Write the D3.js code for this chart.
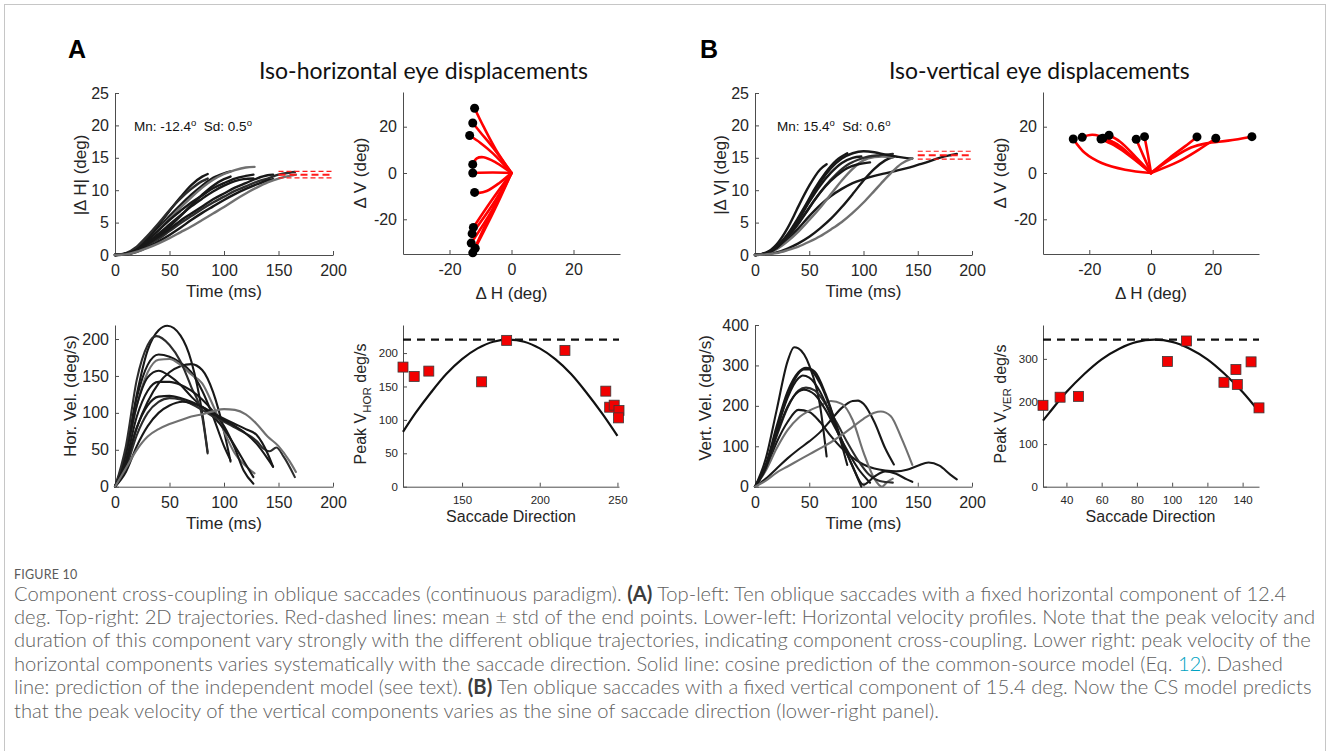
<!DOCTYPE html>
<html>
<head>
<meta charset="utf-8">
<script src="https://cdn.jsdelivr.net/npm/d3@7"></script>
<style>
  html, body { margin: 0; padding: 0; background: #fff; }
  svg { display: block; }
</style>
</head>
<body>
<svg id="fig" width="1328" height="751"></svg>
<script>
// ================= data =================
// shared ticks
const timeTicks   = [0, 50, 100, 150, 200];
const posTicks    = [0, 5, 10, 15, 20, 25];
const planeTicks  = [-20, 0, 20];
const horVelTicks = [0, 50, 100, 150, 200];
const verVelTicks = [0, 100, 200, 300, 400];
const horPeakTicksY = [0, 50, 100, 150, 200];
const horDirTicks   = [150, 200, 250];
const verPeakTicksY = [0, 100, 200, 300];
const verDirTicks   = [40, 60, 80, 100, 120, 140];
const endWindow = [150, 200];   // time window of the end-point mean/sd lines (ms)

// ---- A: iso-horizontal saccades (ordered by direction) ----
const isoHorMean = -12.4, isoHorSD = 0.5;
const isoHorDirection = [112, 119.2, 128.6, 162.6, 178.7, 216.2, 242.5, 245, 247.9, 251, 250.7];
const isoHorPeakVel   = [179, 165, 173, 157, 219, 204, 143, 119, 122, 114, 103];
const isoHorIndep = 220;        // independent-model peak velocity
const isoHorModel = [[112,82],[120,110],[130,141],[140,169],[150,191],[160,207],[170,217],[180,220],
  [190,217],[200,207],[210,191],[220,169],[230,141],[240,110],[250,76]];

// |dH| (deg) vs time (ms)
const isoHorPosition = [
  [[0,0],[10,0.2],[20,1.1],[30,2.5],[40,4.2],[50,6.0],[60,7.7],[70,9.3],[80,10.7],[90,11.9],[100,12.6],[106,12.9]],
  [[0,0],[10,0.2],[20,0.7],[30,1.7],[40,3.0],[50,4.4],[60,6.0],[70,7.7],[80,9.3],[90,10.7],[100,11.7],[106,12.1]],
  [[0,0],[10,0.2],[20,1.0],[30,2.3],[40,3.9],[50,5.6],[60,7.3],[70,8.9],[80,10.4],[90,11.6],[100,12.5],[110,13.1],[120,13.5],[128,13.6]],
  [[0,0],[10,0.2],[20,1.0],[30,2.3],[40,3.8],[50,5.4],[60,6.8],[70,8.1],[80,9.2],[90,10.3],[100,11.1],[110,11.8],[120,12.2],[127,12.4]],
  [[0,0],[10,0.2],[20,1.1],[30,2.6],[40,4.6],[50,6.8],[60,8.9],[70,10.8],[80,12.1],[85,12.5]],
  [[0,0],[10,0.3],[20,1.3],[30,3.0],[40,4.9],[50,6.9],[60,8.7],[70,10.2],[80,11.4],[85,11.8]],
  [[0,0],[10,0.2],[20,0.8],[30,2.0],[40,3.3],[50,4.7],[60,6.1],[70,7.5],[80,8.7],[90,9.8],[100,10.7],[110,11.4],[118,11.7],[127,11.8]],
  [[0,0],[10,0.1],[20,0.6],[30,1.5],[40,2.5],[50,3.7],[60,4.9],[70,6.0],[80,7.1],[90,8.1],[100,9.0],[110,9.9],[120,10.6],[130,11.3],[140,11.8],[150,12.4],[160,12.7],[165,12.8]],
  [[0,0],[10,0.2],[20,0.7],[30,1.7],[40,2.8],[50,4.0],[60,5.3],[70,6.4],[80,7.5],[90,8.6],[100,9.5],[110,10.4],[120,11.1],[130,11.8],[140,12.3],[145,12.4]],
  [[0,0],[10,0.1],[20,0.5],[30,1.2],[40,2.1],[50,3.1],[60,4.2],[70,5.4],[80,6.5],[90,7.5],[100,8.5],[110,9.4],[120,10.2],[130,10.9],[140,11.5],[145,11.7]],
  [[0,0],[10,0.1],[20,0.5],[30,1.1],[40,1.8],[50,2.6],[60,3.5],[70,4.4],[80,5.4],[90,6.4],[100,7.4],[110,8.5],[120,9.5],[130,10.4],[140,11.2],[150,11.8],[160,12.2],[166,12.4]]
];

// horizontal velocity (deg/s) vs time (ms)
const isoHorVelocity = [
  [[0,0],[10,45],[20,120],[30,165],[40,179],[50,176],[60,168],[70,155],[80,130],[90,95],[100,55],[106,36]],
  [[0,0],[10,30],[20,80],[30,115],[40,140],[50,155],[60,163],[70,166],[80,158],[90,128],[100,75],[106,34]],
  [[0,0],[10,40],[20,110],[30,155],[40,172],[50,173],[60,165],[70,152],[80,140],[90,110],[100,75],[110,45],[120,28],[128,18]],
  [[0,0],[10,45],[20,110],[30,148],[40,157],[50,150],[60,138],[70,122],[80,108],[90,95],[100,78],[110,55],[120,30],[127,13]],
  [[0,0],[10,45],[20,125],[30,185],[40,212],[48,218],[60,205],[70,170],[80,100],[85,47]],
  [[0,0],[10,55],[20,145],[30,192],[38,204],[50,192],[60,170],[70,135],[80,95],[85,45]],
  [[0,0],[10,35],[20,95],[30,130],[40,142],[50,142],[60,138],[70,130],[80,118],[90,102],[100,82],[110,52],[118,22],[127,4]],
  [[0,0],[10,25],[20,70],[30,100],[40,115],[50,120],[60,118],[70,112],[80,104],[90,95],[100,88],[110,80],[120,72],[130,62],[136,52],[142,48],[148,53],[155,40],[165,13]],
  [[0,0],[10,30],[20,80],[30,110],[40,122],[50,123],[60,120],[70,115],[80,108],[90,98],[100,90],[110,82],[120,72],[130,58],[140,38],[145,27]],
  [[0,0],[10,20],[20,55],[30,82],[40,100],[50,110],[62,115],[70,113],[80,108],[90,100],[100,92],[110,85],[120,78],[130,70],[140,45],[145,27]],
  [[0,0],[10,25],[20,50],[30,68],[40,78],[50,85],[60,90],[70,95],[80,98],[90,102],[100,105],[110,104],[120,98],[130,85],[140,68],[150,55],[160,35],[166,20]]
];

// 2D trajectories (dH, dV) in deg, last point = end point
const isoHorPath = [
  [[0,0],[-5,10],[-9,20],[-11.9,28.0]],
  [[0,0],[-6,11],[-10,17.5],[-12.5,21.6]],
  [[0,0],[-6,8.5],[-10,13],[-13.5,16.2]],
  [[0,0],[-5,4.5],[-9,6.8],[-11.2,6.3],[-12.5,3.7]],
  [[0,0],[-6,0.2],[-12.5,0]],
  [[0,0],[-4,-4.4],[-8,-7.8],[-10.5,-8.6],[-11.9,-8.4]],
  [[0,0],[-6.5,-12],[-12.3,-23.5]],
  [[0,0],[-6,-13.5],[-12.7,-26.2]],
  [[0,0],[-6,-15.5],[-13.0,-30.3]],
  [[0,0],[-5.5,-16],[-11.7,-32.5]],
  [[0,0],[-6.5,-17],[-12.5,-34.5]]
];

// ---- B: iso-vertical saccades (ordered by direction) ----
const isoVerMean = 15.4, isoVerSD = 0.6;
const isoVerDirection = [26.7, 36.4, 46.8, 97.3, 108.1, 129.4, 136.2, 137, 144.8, 149.3];
const isoVerPeakVel   = [191, 210, 212, 294, 342, 245, 275, 240, 293, 185];
const isoVerIndep = 345;
const isoVerModel = [[26.7,155],[30,172],[40,222],[50,264],[60,299],[70,324],[80,340],[90,345],
  [100,340],[110,324],[120,299],[130,264],[140,222],[149.3,176]];

const isoVerPosition = [
  [[0,0],[10,0.2],[20,1.0],[30,2.4],[40,4.1],[50,6.0],[60,7.7],[70,9.1],[80,10.2],[90,11.1],[100,11.7],[110,12.2],[120,12.6],[130,13.0],[140,13.4],[150,13.9],[160,14.4],[170,15.0],[180,15.4],[186,15.6]],
  [[0,0],[10,0.1],[20,0.4],[30,1.0],[40,1.8],[50,2.8],[60,4.1],[70,5.6],[80,7.4],[90,9.4],[100,11.5],[110,13.3],[120,14.6],[128,15.2]],
  [[0,0],[10,0.2],[20,0.9],[30,2.1],[40,3.6],[50,5.4],[60,7.3],[70,9.4],[80,11.5],[90,13.3],[100,14.6],[110,15.1],[117,15.2],[122,15.15],[127,15.05]],
  [[0,0],[10,0.3],[20,1.3],[30,3.2],[40,5.8],[47,7.8],[55,10.2],[65,12.7],[75,14.6],[85,15.7]],
  [[0,0],[10,0.35],[20,1.65],[30,4.15],[36,6.1],[40,7.5],[50,10.7],[60,13.2],[66,14.0]],
  [[0,0],[10,0.2],[20,1.1],[30,2.7],[40,4.8],[47,6.5],[55,8.5],[65,10.7],[75,12.5],[85,13.9],[95,14.7],[105,15.2],[115,15.4],[127,15.6]],
  [[0,0],[10,0.25],[20,1.2],[30,3.0],[40,5.4],[50,8.2],[60,10.7],[70,12.7],[80,14.2],[90,15.0],[98,15.2]],
  [[0,0],[10,0.25],[20,1.1],[30,2.8],[40,4.9],[45,6.1],[55,8.5],[65,10.6],[75,12.2],[85,13.4],[95,14.0],[106,14.3]],
  [[0,0],[10,0.25],[20,1.2],[30,3.0],[40,5.5],[50,8.4],[60,11.2],[70,13.4],[80,14.9],[90,15.7],[100,16.0],[110,15.85],[120,15.5],[130,15.2],[140,14.95],[145,14.9]],
  [[0,0],[10,0.1],[20,0.3],[30,0.75],[40,1.3],[50,2.05],[60,2.9],[70,3.95],[80,5.1],[90,6.5],[100,8.1],[110,9.9],[116,11.0],[125,12.6],[135,14.1],[145,14.9]]
];

const isoVerVelocity = [
  [[0,0],[10,45],[20,110],[30,160],[40,190],[50,185],[60,160],[70,125],[80,95],[90,72],[100,55],[110,45],[120,40],[130,38],[140,42],[150,52],[160,60],[170,52],[180,30],[186,18]],
  [[0,0],[10,20],[20,45],[30,70],[40,92],[50,112],[60,135],[70,165],[80,195],[90,212],[95,213],[100,205],[110,160],[120,95],[128,55]],
  [[0,0],[10,40],[20,95],[30,140],[40,170],[50,188],[60,200],[70,212],[80,205],[90,165],[100,85],[110,20],[117,0],[122,12],[127,20]],
  [[0,0],[10,55],[20,150],[30,235],[40,283],[47,294],[55,285],[65,230],[75,150],[85,54]],
  [[0,0],[10,70],[20,190],[30,310],[36,345],[40,342],[50,300],[60,200],[66,75]],
  [[0,0],[10,45],[20,125],[30,195],[40,238],[47,245],[55,238],[65,205],[75,160],[85,110],[95,65],[105,30],[115,14],[127,10]],
  [[0,0],[10,50],[20,140],[30,220],[40,268],[44,275],[50,270],[60,235],[70,175],[80,110],[90,50],[98,0]],
  [[0,0],[10,48],[20,130],[30,198],[40,235],[45,240],[55,228],[65,190],[75,140],[85,90],[95,45],[106,10]],
  [[0,0],[10,50],[20,140],[30,225],[40,280],[45,290],[50,290],[60,255],[70,190],[80,115],[90,50],[100,5],[110,25],[120,38],[130,32],[140,18],[145,12]],
  [[0,0],[10,15],[20,35],[30,50],[40,65],[50,80],[60,95],[70,110],[80,128],[90,148],[100,168],[110,183],[116,186],[125,175],[135,120],[145,54]]
];

const isoVerPath = [
  [[0,0],[7,6.5],[13,11],[18,12.8],[25,14],[32.7,15.7]],
  [[0,0],[9,5],[15.4,10],[21.0,15.0]],
  [[0,0],[6,6.5],[11,11.5],[14.9,15.6]],
  [[0,0],[-1,8],[-2.1,15.7]],
  [[0,0],[-2.5,7.5],[-4.8,14.6]],
  [[0,0],[-5,7],[-10,13.5],[-13.6,16.3]],
  [[0,0],[-6,7],[-11,12.5],[-15.6,15.0]],
  [[0,0],[-7,7.5],[-12,12],[-16.2,14.7]],
  [[0,0],[-7,8],[-14,14.5],[-19,16.5],[-22.3,15.4]],
  [[0,0],[-8.4,1.4],[-16,4.3],[-21.4,8.6],[-25.2,14.7]]
];

// ================= styling =================
const AXIS = "#4d4d4d", INK = "#262626";
const SANS = "'Liberation Sans', Arial, Helvetica, sans-serif";
const BLACK = "#181818", GREY = "#707070", DARK = "#2c2c2c";
const traceColorA = [BLACK, BLACK, GREY, BLACK, BLACK, DARK, BLACK, DARK, BLACK, BLACK, GREY];
const traceColorB = [BLACK, BLACK, GREY, BLACK, BLACK, DARK, BLACK, BLACK, BLACK, GREY];

const svg = d3.select("#fig");
svg.append("rect").attr("x", 4.5).attr("y", 4.5).attr("width", 1321).attr("height", 800)
  .attr("fill", "#fff").attr("stroke", "#c6c6c6");

function makeAxes(c) {
  const x = d3.scaleLinear().domain(c.xDomain).range([c.left, c.right]);
  const y = d3.scaleLinear().domain(c.yDomain).range([c.bottom, c.top]);
  const g = svg.append("g");
  const fmt = d => String(d);
  const ax = g.append("g").attr("transform", `translate(0,${c.bottom})`)
    .call(d3.axisBottom(x).tickValues(c.xTicks).tickFormat(fmt)
      .tickSizeInner(-4).tickSizeOuter(0).tickPadding(c.xPad));
  const ay = g.append("g").attr("transform", `translate(${c.left},0)`)
    .call(d3.axisLeft(y).tickValues(c.yTicks).tickFormat(fmt)
      .tickSizeInner(-4).tickSizeOuter(0).tickPadding(c.yPad));
  [ax, ay].forEach(a => {
    a.select(".domain").attr("stroke", AXIS).attr("stroke-width", 1);
    a.selectAll(".tick line").attr("stroke", AXIS).attr("stroke-width", 1);
    a.selectAll(".tick text").attr("fill", INK)
      .style("font-family", SANS).style("font-size", c.fs + "px");
  });
  const plot = svg.append("g");
  return { x, y, plot };
}

function xLabel(cx, baseline, txt, fs) {
  svg.append("text").attr("x", cx).attr("y", baseline).attr("text-anchor", "middle")
    .style("font-family", SANS).style("font-size", fs + "px").attr("fill", INK).text(txt);
}
// rotated label; parts: [text, subscript?]
function yLabel(bx, cy, parts, fs) {
  const t = svg.append("text").attr("transform", `translate(${bx},${cy}) rotate(-90)`)
    .attr("text-anchor", "middle").style("font-family", SANS).style("font-size", fs + "px")
    .style("white-space", "pre").attr("fill", INK);
  let shifted = 0;
  parts.forEach(([s, sub]) => {
    const sp = t.append("tspan").text(s);
    if (sub) { sp.attr("dy", 5).style("font-size", (fs * 0.72) + "px"); shifted = 5; }
    else if (shifted) { sp.attr("dy", -shifted); shifted = 0; }
  });
}
function statText(x0, baseline, mean, sd) {
  const t = svg.append("text").attr("x", x0).attr("y", baseline)
    .style("font-family", SANS).style("font-size", "13.5px").style("white-space", "pre").attr("fill", "#111");
  t.append("tspan").text(`Mn: ${mean.toFixed(1)}`);
  t.append("tspan").attr("dy", -5).style("font-size", "9.5px").text("o");
  t.append("tspan").attr("dy", 5).text(`  Sd: ${sd.toFixed(1)}`);
  t.append("tspan").attr("dy", -5).style("font-size", "9.5px").text("o");
}

function traces(ax, series, colors, width) {
  const ln = d3.line().curve(d3.curveMonotoneX).x(d => ax.x(d[0])).y(d => ax.y(d[1]));
  series.forEach((s, i) => {
    ax.plot.append("path").attr("d", ln(s)).attr("fill", "none")
      .attr("stroke", colors[i]).attr("stroke-width", width)
      .attr("stroke-linejoin", "round").attr("stroke-linecap", "round");
  });
}
function endBand(ax, mean, sd) {
  const m = Math.abs(mean);
  [[m + sd, 1.1, "5,3"], [m - sd, 1.1, "5,3"], [m, 2, "7,4"]].forEach(([v, w, dash]) => {
    ax.plot.append("line").attr("x1", ax.x(endWindow[0])).attr("x2", ax.x(endWindow[1]))
      .attr("y1", ax.y(v)).attr("y2", ax.y(v))
      .attr("stroke", "#ff1a1a").attr("stroke-width", w).attr("stroke-dasharray", dash);
  });
}
function plane(ax, paths) {
  const ln = d3.line().curve(d3.curveCatmullRom.alpha(0.5)).x(d => ax.x(d[0])).y(d => ax.y(d[1]));
  paths.forEach(p => {
    ax.plot.append("path").attr("d", ln(p)).attr("fill", "none").attr("stroke", "#ff0000")
      .attr("stroke-width", 2.6).attr("stroke-linecap", "round");
  });
  ax.plot.selectAll(null).data(paths).join("circle")
    .attr("cx", p => ax.x(p[p.length - 1][0])).attr("cy", p => ax.y(p[p.length - 1][1]))
    .attr("r", 4.5).attr("fill", "#000");
}
function peakPanel(ax, dirs, peaks, model, indep) {
  const dom = ax.x.domain();
  ax.plot.append("line").attr("x1", ax.x(dom[0])).attr("x2", ax.x(dom[1]))
    .attr("y1", ax.y(indep)).attr("y2", ax.y(indep))
    .attr("stroke", "#111").attr("stroke-width", 2.2).attr("stroke-dasharray", "8,6");
  const ln = d3.line().curve(d3.curveCatmullRom).x(d => ax.x(d[0])).y(d => ax.y(d[1]));
  ax.plot.append("path").attr("d", ln(model)).attr("fill", "none")
    .attr("stroke", "#111").attr("stroke-width", 2.2);
  const s = 10;
  ax.plot.selectAll(null).data(dirs).join("rect")
    .attr("x", (d) => ax.x(d) - s / 2).attr("y", (d, i) => ax.y(peaks[i]) - s / 2)
    .attr("width", s).attr("height", s)
    .attr("fill", "#f20000").attr("stroke", "#3a3a3a").attr("stroke-width", 0.8);
}

// ================= panel A =================
const aTL = makeAxes({ left: 115, right: 333, bottom: 255, top: 93, xDomain: [0, 200], yDomain: [0, 25],
  xTicks: timeTicks, yTicks: posTicks, fs: 16, xPad: 10, yPad: 6 });
traces(aTL, isoHorPosition, traceColorA, 2.4);
endBand(aTL, isoHorMean, isoHorSD);
xLabel(224, 297, "Time (ms)", 17);
yLabel(86, 175, [["|Δ H| (deg)"]], 17);
statText(134, 131, isoHorMean, isoHorSD);

const aTR = makeAxes({ left: 403, right: 620, bottom: 254, top: 92, xDomain: [-35, 35], yDomain: [-35, 35],
  xTicks: planeTicks, yTicks: planeTicks, fs: 16, xPad: 10, yPad: 6 });
plane(aTR, isoHorPath);
xLabel(511.5, 299, "Δ H (deg)", 17);
yLabel(366, 173, [["Δ V (deg)"]], 17);

const aBL = makeAxes({ left: 115, right: 333, bottom: 486.7, top: 325, xDomain: [0, 200], yDomain: [0, 219],
  xTicks: timeTicks, yTicks: horVelTicks, fs: 16, xPad: 10, yPad: 6 });
traces(aBL, isoHorVelocity, traceColorA, 2.1);
xLabel(224, 529, "Time (ms)", 17);
yLabel(76, 396, [["Hor. Vel. (deg/s)"]], 17);

const aBR = makeAxes({ left: 403, right: 619, bottom: 486.7, top: 325,
  xDomain: d3.extent(isoHorDirection), yDomain: [0, isoHorIndep * 1.1],
  xTicks: horDirTicks, yTicks: horPeakTicksY, fs: 11.5, xPad: 9, yPad: 5 });
peakPanel(aBR, isoHorDirection, isoHorPeakVel, isoHorModel, isoHorIndep);
xLabel(511, 522, "Saccade Direction", 16);
yLabel(366, 404, [["Peak V"], ["HOR", true], [" deg/s"]], 16);

// ================= panel B =================
const bTL = makeAxes({ left: 755, right: 972, bottom: 255, top: 93, xDomain: [0, 200], yDomain: [0, 25],
  xTicks: timeTicks, yTicks: posTicks, fs: 16, xPad: 10, yPad: 6 });
traces(bTL, isoVerPosition, traceColorB, 2.4);
endBand(bTL, isoVerMean, isoVerSD);
xLabel(863.5, 297, "Time (ms)", 17);
yLabel(726, 175, [["|Δ V| (deg)"]], 17);
statText(777, 131, isoVerMean, isoVerSD);

const bTR = makeAxes({ left: 1043, right: 1259, bottom: 254, top: 92, xDomain: [-35, 35], yDomain: [-35, 35],
  xTicks: planeTicks, yTicks: planeTicks, fs: 16, xPad: 10, yPad: 6 });
plane(bTR, isoVerPath);
xLabel(1151, 299, "Δ H (deg)", 17);
yLabel(1006, 173, [["Δ V (deg)"]], 17);

const bBL = makeAxes({ left: 755, right: 972, bottom: 486.7, top: 325, xDomain: [0, 200], yDomain: [0, 400],
  xTicks: timeTicks, yTicks: verVelTicks, fs: 16, xPad: 10, yPad: 6 });
traces(bBL, isoVerVelocity, traceColorB, 2.1);
xLabel(863.5, 529, "Time (ms)", 17);
yLabel(711, 398, [["Vert. Vel. (deg/s)"]], 17);

const bBR = makeAxes({ left: 1043, right: 1259, bottom: 486.7, top: 325,
  xDomain: d3.extent(isoVerDirection), yDomain: [0, isoVerIndep * 1.1],
  xTicks: verDirTicks, yTicks: verPeakTicksY, fs: 11.5, xPad: 9, yPad: 5 });
peakPanel(bBR, isoVerDirection, isoVerPeakVel, isoVerModel, isoVerIndep);
xLabel(1150.5, 522, "Saccade Direction", 16);
yLabel(1006, 404, [["Peak V"], ["VER", true], [" deg/s"]], 16);

// ================= letters & titles =================
[["A", 68], ["B", 700]].forEach(([s, x]) => {
  svg.append("text").attr("x", x).attr("y", 58).text(s)
    .style("font-family", SANS).style("font-weight", "bold").style("font-size", "25px").attr("fill", "#000");
});
function fitText(sel, width) {
  const w = sel.node().getComputedTextLength();
  const fs = parseFloat(sel.style("font-size"));
  sel.style("font-size", (fs * width / w) + "px");
}
const TITLEFONT = "Lato, 'Open Sans', 'Noto Sans', sans-serif";
fitText(svg.append("text").attr("x", 259).attr("y", 79).text("Iso-horizontal eye displacements")
  .style("font-family", TITLEFONT).style("font-size", "22px").attr("fill", "#111"), 329);
fitText(svg.append("text").attr("x", 889).attr("y", 79).text("Iso-vertical eye displacements")
  .style("font-family", TITLEFONT).style("font-size", "22px").attr("fill", "#111"), 301);

// ================= caption =================
const CAPFONT = "Lato, 'Open Sans', 'Noto Sans', sans-serif";
const CAPGREY = "#606060";
svg.append("text").attr("x", 14).attr("y", 578.5).text("FIGURE 10")
  .style("font-family", CAPFONT).style("font-size", "12.5px").style("letter-spacing", "0.2px")
  .attr("fill", "#5a5a5a");
const captionLines = [
  [["Component cross-coupling in oblique saccades (continuous paradigm). "], ["(A)", "b"], [" Top-left: Ten oblique saccades with a fixed horizontal component of 12.4"]],
  [["deg. Top-right: 2D trajectories. Red-dashed lines: mean ± std of the end points. Lower-left: Horizontal velocity profiles. Note that the peak velocity and"]],
  [["duration of this component vary strongly with the different oblique trajectories, indicating component cross-coupling. Lower right: peak velocity of the"]],
  [["horizontal components varies systematically with the saccade direction. Solid line: cosine prediction of the common-source model (Eq. "], ["12", "l"], ["). Dashed"]],
  [["line: prediction of the independent model (see text). "], ["(B)", "b"], [" Ten oblique saccades with a fixed vertical component of 15.4 deg. Now the CS model predicts"]],
  [["that the peak velocity of the vertical components varies as the sine of saccade direction (lower-right panel)."]]
];
const capNodes = captionLines.map((parts, i) => {
  const t = svg.append("text").attr("x", 14).attr("y", 600.5 + i * 23.4)
    .style("font-family", CAPFONT).style("font-size", "16px").style("font-weight", 300)
    .style("white-space", "pre").attr("fill", CAPGREY);
  parts.forEach(([s, k]) => {
    const sp = t.append("tspan").text(s);
    if (k === "b") sp.style("font-weight", 700).attr("fill", "#3c3c3c");
    if (k === "l") sp.attr("fill", "#00a2c2");
  });
  return t;
});
// one font size for the whole caption: first line spans the block, no line past the right margin
const widths = capNodes.map(t => t.node().getComputedTextLength());
const capFs = Math.min(16 * 1299 / widths[0], ...widths.map(w => 16 * 1302 / w));
capNodes.forEach(t => t.style("font-size", capFs + "px"));
</script>
</body>
</html>
